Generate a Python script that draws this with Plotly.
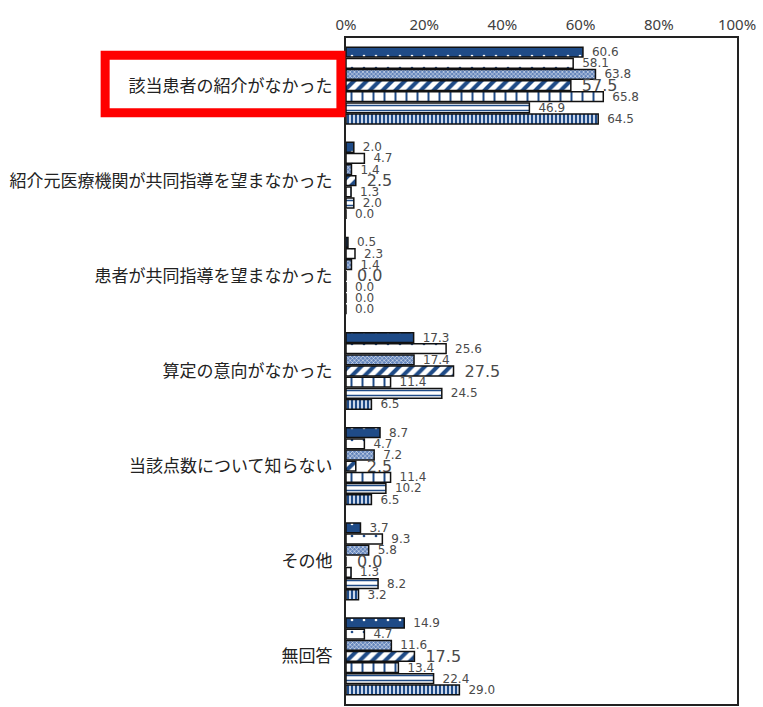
import plotly.graph_objects as go

# Reasons (top to bottom)
categories = [
    "該当患者の紹介がなかった",
    "紹介元医療機関が共同指導を望まなかった",
    "患者が共同指導を望まなかった",
    "算定の意向がなかった",
    "当該点数について知らない",
    "その他",
    "無回答",
]

# Seven respondent groups, values in %
s1 = [60.6, 2.0, 0.5, 17.3, 8.7, 3.7, 14.9]
s2 = [58.1, 4.7, 2.3, 25.6, 4.7, 9.3, 4.7]
s3 = [63.8, 1.4, 1.4, 17.4, 7.2, 5.8, 11.6]
s4 = [57.5, 2.5, 0.0, 27.5, 2.5, 0.0, 17.5]
s5 = [65.8, 1.3, 0.0, 11.4, 11.4, 1.3, 13.4]
s6 = [46.9, 2.0, 0.0, 24.5, 10.2, 8.2, 22.4]
s7 = [64.5, 0.0, 0.0, 6.5, 6.5, 3.2, 29.0]

tick_vals = [0, 20, 40, 60, 80, 100]

NAVY = "#1f4b87"
MID = "#6485bb"
PALE = "#c9d6ea"

styles = [
    dict(shape=".", bgcolor=NAVY, fgcolor="white", size=12, solidity=0.04),
    dict(shape=".", bgcolor="white", fgcolor=NAVY, size=12, solidity=0.04),
    dict(shape="x", bgcolor=MID, fgcolor="white", size=3, solidity=0.3),
    dict(shape="/", bgcolor="white", fgcolor=NAVY, size=9, solidity=0.45),
    dict(shape="|", bgcolor="white", fgcolor=NAVY, size=11, solidity=0.18),
    dict(shape="-", bgcolor="white", fgcolor=NAVY, size=5, solidity=0.3),
    dict(shape="|", bgcolor=PALE, fgcolor=NAVY, size=4, solidity=0.5),
]
label_sizes = [12, 12, 12, 16, 12, 12, 12]

fig = go.Figure()
for i, vals in enumerate([s1, s2, s3, s4, s5, s6, s7]):
    fig.add_trace(go.Bar(
        y=categories,
        x=vals,
        orientation="h",
        marker=dict(
            color="white",
            pattern=dict(fillmode="replace", **styles[i]),
            line=dict(color="#111111", width=1.5),
        ),
        text=[f"\u2002{v:.1f}" for v in vals],
        textposition="outside",
        constraintext="none",
        textfont=dict(size=label_sizes[i], color="#4a4a4a",
                      family="DejaVu Sans"),
        cliponaxis=False,
        showlegend=False,
        hoverinfo="skip",
    ))

# Highlight frame around the first reason
fig.add_shape(
    type="rect", xref="paper", yref="y",
    x0=-0.616, x1=-0.013, y0=-0.32, y1=0.285,
    line=dict(color="#ff0000", width=9),
    fillcolor="rgba(0,0,0,0)", layer="above",
)

fig.update_layout(
    width=763, height=707,
    margin=dict(l=346, r=26, t=38, b=1),
    paper_bgcolor="white",
    plot_bgcolor="white",
    barmode="group",
    bargap=0.18,
    bargroupgap=0.12,
    font=dict(family="Noto Sans CJK JP", color="#222222"),
    xaxis=dict(
        side="top",
        range=[0, 100],
        tickvals=tick_vals,
        ticktext=[f"{t}%" for t in tick_vals],
        tickfont=dict(size=15, color="#404040", family="Noto Sans"),
        showgrid=False,
        zeroline=False,
        showline=True, linecolor="#222222", linewidth=2, mirror=True,
        ticks="",
    ),
    yaxis=dict(
        autorange="reversed",
        tickfont=dict(size=17, color="#222222"),
        showgrid=False,
        showline=True, linecolor="#222222", linewidth=2, mirror=True,
        ticks="",
        ticklabelstandoff=8,
    ),
)

fig.write_html("out.html")
